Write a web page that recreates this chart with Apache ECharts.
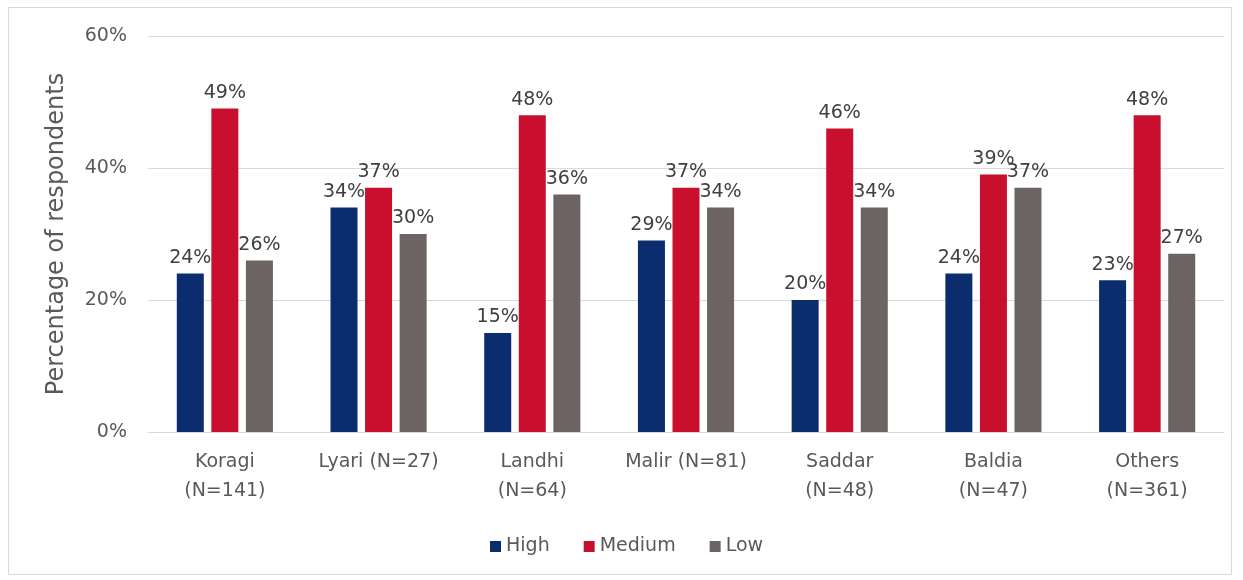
<!DOCTYPE html>
<html><head><meta charset="utf-8">
<script src="https://cdn.jsdelivr.net/npm/echarts@6/dist/echarts.min.js"></script>
<style>html,body{margin:0;padding:0;background:#fff}#c{width:1243px;height:580px}
#frame{position:absolute;left:8px;top:7px;width:1224px;height:568px;border:1px solid #d9d9d9;box-sizing:border-box;pointer-events:none}</style>
</head><body><div id="c"></div><div id="frame"></div>
<script>
const categories = ['Koragi\n(N=141)', 'Lyari (N=27)', 'Landhi\n(N=64)', 'Malir (N=81)', 'Saddar\n(N=48)', 'Baldia\n(N=47)', 'Others\n(N=361)'];
const high = [24, 34, 15, 29, 20, 24, 23];
const medium = [49, 37, 48, 37, 46, 39, 48];
const low = [26, 30, 36, 34, 34, 37, 27];
const yTicks = [0, 20, 40, 60];

const font = '"DejaVu Sans", sans-serif';
const chart = echarts.init(document.getElementById('c'));
const lbl = {show: true, position: 'top', distance: 6, formatter: p => p.value + '%', color: '#404040', fontSize: 19, fontFamily: font};
chart.setOption({
  animation: false,
  grid: {left: 148, right: 19, top: 36, bottom: 148},
  legend: {bottom: 19, left: 485, itemWidth: 11, itemHeight: 11, itemGap: 34, icon: 'rect',
    textStyle: {color: '#595959', fontSize: 19, fontFamily: font}, data: ['High', 'Medium', 'Low']},
  xAxis: {type: 'category', data: categories,
    axisLine: {lineStyle: {color: '#d9d9d9'}}, axisTick: {show: false},
    axisLabel: {color: '#595959', fontSize: 19, fontFamily: font, lineHeight: 29, margin: 16, interval: 0}},
  yAxis: {type: 'value', min: yTicks[0], max: yTicks[yTicks.length - 1], interval: 20,
    name: 'Percentage of respondents', nameLocation: 'middle', nameGap: 79,
    nameTextStyle: {color: '#595959', fontSize: 24, fontFamily: font},
    axisLabel: {formatter: '{value}%', color: '#595959', fontSize: 19, fontFamily: font, margin: 21},
    splitLine: {lineStyle: {color: '#d9d9d9'}}, axisLine: {show: false}, axisTick: {show: false}},
  series: [
    {name: 'High', type: 'bar', data: high, barWidth: 27, barGap: '28%', itemStyle: {color: '#0b2d6e'}, label: lbl},
    {name: 'Medium', type: 'bar', data: medium, barWidth: 27, barGap: '28%', itemStyle: {color: '#c8102e'}, label: lbl},
    {name: 'Low', type: 'bar', data: low, barWidth: 27, barGap: '28%', itemStyle: {color: '#6b6462'}, label: lbl}
  ]
});
</script></body></html>
